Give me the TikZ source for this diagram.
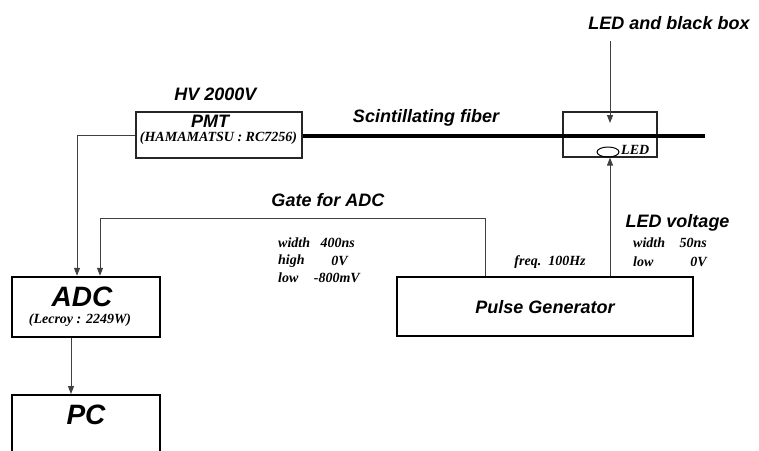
\documentclass[tikz,border=0pt]{standalone}
\usepackage{fontspec}
\setmainfont{Liberation Serif}
\newfontfamily\hvf{Liberation Sans}
\usetikzlibrary{arrows.meta,shapes.geometric}
\tikzset{
  lbl/.style={inner sep=0pt, font=\hvf\bfseries\itshape\fontsize{18}{20}\selectfont},
  big/.style={inner sep=0pt, font=\hvf\bfseries\itshape\fontsize{28}{30}\selectfont},
  sml/.style={inner sep=0pt, font=\bfseries\itshape\fontsize{14}{16}\selectfont},
  conn/.style={draw=black!75, line width=1pt, -{Triangle[length=8pt,width=6pt]}},
  boxA/.style={draw=black, line width=2pt, inner sep=0pt},
  boxB/.style={draw=black!85, line width=1.2pt, inner sep=0pt},
}
\begin{document}
\begin{tikzpicture}[x=1pt,y=-1pt]
\useasboundingbox (0,0) rectangle (759,450);
\clip (0,0) rectangle (759,450);
% boxes
\node[boxB, minimum width=166pt, minimum height=46pt] (pmt) at (219,135) {};
\node[boxB, minimum width=94pt, minimum height=45pt] (led) at (610,134.5) {};
\node[boxA, minimum width=296pt, minimum height=59pt] (pg) at (545,306.5) {};
\node[boxA, line width=2.5pt, minimum width=148pt, minimum height=60pt] (adc) at (86,307) {};
\node[boxA, minimum width=148pt, minimum height=80pt] (pc) at (86,435) {};
% fiber
\coordinate (fend) at (705,136);
\draw[line width=4pt] (pmt.east |- fend) -- (fend);
% box texts
\node[lbl, anchor=base] (pmtt) at (210,127.5) {PMT};
\node[sml, anchor=base] (hama) at (218.5,141.5) {(HAMAMATSU : RC7256)};
\node[lbl] (hv) at (215.5,94) {HV 2000V};
\node[lbl] (scint) at (426,118) {Scintillating fiber};
\node[lbl] (ledtitle) at (669,23) {LED and black box};
\node[draw=black, line width=1pt, ellipse, minimum width=22pt, minimum height=10pt, inner sep=0pt] (bulb) at (608,152) {};
\node[sml, anchor=base west] (ledt) at (621,154) {LED};
\node[lbl] (pgt) at (545,307) {Pulse Generator};
\node[big] (adct) at (82,297) {ADC};
\node[sml] (lecroy) at (80,320) {(Lecroy : 2249W)};
\node[big] (pct) at (86,415) {PC};
% labels
\node[lbl] (gate) at (328,200) {Gate for ADC};
\node[sml, anchor=west] (w1) at (278,243) {width};
\node[sml, anchor=east] (w1v) at (355,243) {400ns};
\node[sml, anchor=west] (h1) at (278,261) {high};
\node[sml, anchor=east] (h1v) at (348,261) {0V};
\node[sml, anchor=west] (l1) at (278,278) {low};
\node[sml, anchor=east] (l1v) at (360,278) {-800mV};
\node[sml] (freq) at (550,262) {freq.\ \ 100Hz};
\node[lbl] (ledv) at (677.5,223) {LED voltage};
\node[sml, anchor=west] (w2) at (633,243) {width};
\node[sml, anchor=east] (w2v) at (707,243) {50ns};
\node[sml, anchor=west] (l2) at (633,262) {low};
\node[sml, anchor=east] (l2v) at (707,262) {0V};
% connectors
\coordinate (ledtop) at (610,41);
\coordinate (ledin) at (610,123);
\draw[conn] (ledtop) -- (ledin);
\draw[conn] (pg.north -| led.south) -- (led.south);
\coordinate (pmtc) at (77,135);
\draw[conn] (pmt.west) -- (pmtc) -- (pmtc |- adc.north);
\coordinate (gx) at (485,218);
\coordinate (gy) at (100,218);
\draw[conn] (gx |- pg.north) -- (gx) -- (gy) -- (gy |- adc.north);
\coordinate (adcx) at (71,337);
\draw[conn] (adcx |- adc.south) -- (adcx |- pc.north);
\end{tikzpicture}
\end{document}
